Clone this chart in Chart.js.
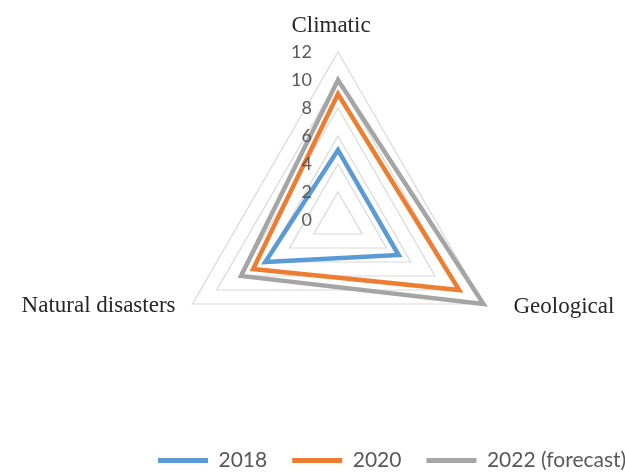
<!DOCTYPE html>
<html>
<head>
<meta charset="utf-8">
<script src="https://cdn.jsdelivr.net/npm/chart.js@4"></script>
<style>
  html, body { margin: 0; padding: 0; background: #fff; }
  #wrap { width: 625px; height: 472px; }
</style>
</head>
<body>
<div id="wrap"><canvas id="myChart"></canvas></div>
<script>
// data
var categories = ['Climatic', 'Geological', 'Natural disasters']
var series2018 = [5, 5, 6]
var series2020 = [9, 10, 7]
var series2022 = [10, 12, 8]
var tickValues = [0, 2, 4, 6, 8, 10, 12]

// draws the axis numbers and category names next to the radial scale
var labelPlugin = {
  id: 'radarLabels',
  afterDraw: function(chart) {
    var ctx = chart.ctx
    var r = chart.scales.r
    ctx.save()
    // tick numbers, left of the vertical axis
    ctx.font = '18px Lato'
    ctx.fillStyle = '#595959'
    ctx.textAlign = 'right'
    ctx.textBaseline = 'middle'
    tickValues.forEach(function(v) {
      var p = r.getPointPositionForValue(0, v)
      ctx.fillText(String(v), p.x - 26, p.y)
    })
    // category names
    ctx.font = '23px "Liberation Serif"'
    ctx.fillStyle = '#262626'
    ctx.textBaseline = 'alphabetic'
    var top = r.getPointPosition(0, r.drawingArea)
    ctx.textAlign = 'center'
    ctx.fillText(categories[0], top.x - 7, top.y - 20)
    var right = r.getPointPosition(1, r.drawingArea)
    ctx.textAlign = 'left'
    ctx.fillText(categories[1], right.x + 30, right.y + 9)
    var left = r.getPointPosition(2, r.drawingArea)
    ctx.textAlign = 'right'
    ctx.fillText(categories[2], left.x - 17, left.y + 8)
    ctx.restore()
  }
}

var ctx = document.getElementById('myChart').getContext('2d')
var chart = new Chart(ctx, {
  type: 'radar',
  data: {
    labels: categories,
    datasets: [{
      label: '2018',
      data: series2018,
      borderColor: '#5B9BD5',
      backgroundColor: '#5B9BD5',
      borderWidth: 4.5,
      fill: false,
      pointRadius: 0
    }, {
      label: '2020',
      data: series2020,
      borderColor: '#ED7D31',
      backgroundColor: '#ED7D31',
      borderWidth: 4.5,
      fill: false,
      pointRadius: 0
    }, {
      label: '2022 (forecast)',
      data: series2022,
      borderColor: '#A5A5A5',
      backgroundColor: '#A5A5A5',
      borderWidth: 4.5,
      fill: false,
      pointRadius: 0
    }]
  },
  options: {
    responsive: true,
    maintainAspectRatio: false,
    animation: false,
    // only the legend uses this, the radar is placed in afterFit
    layout: { padding: { left: 133, right: -40, bottom: -9 } },
    elements: { line: { tension: 0, borderJoinStyle: 'miter' } },
    scales: {
      r: {
        min: 0,
        max: 12,
        ticks: { stepSize: 2, display: false },
        grid: { color: '#D9D9D9', lineWidth: 1.2 },
        angleLines: { display: false },
        pointLabels: { display: false },
        // put the radar where the picture has it
        afterFit: function(scale) {
          scale.xCenter = 338
          scale.yCenter = 220
          scale.drawingArea = 168
        }
      }
    },
    plugins: {
      tooltip: { enabled: false },
      legend: {
        position: 'bottom',
        align: 'start',
        labels: {
          boxWidth: 50,
          boxHeight: 5,
          padding: 25,
          color: '#595959',
          font: { family: 'Lato', size: 21 },
          generateLabels: function(chart) {
            var items = Chart.defaults.plugins.legend.labels.generateLabels(chart)
            items.forEach(function(it) { it.lineWidth = 0 })
            return items
          }
        }
      }
    }
  },
  plugins: [labelPlugin]
})
</script>
</body>
</html>
